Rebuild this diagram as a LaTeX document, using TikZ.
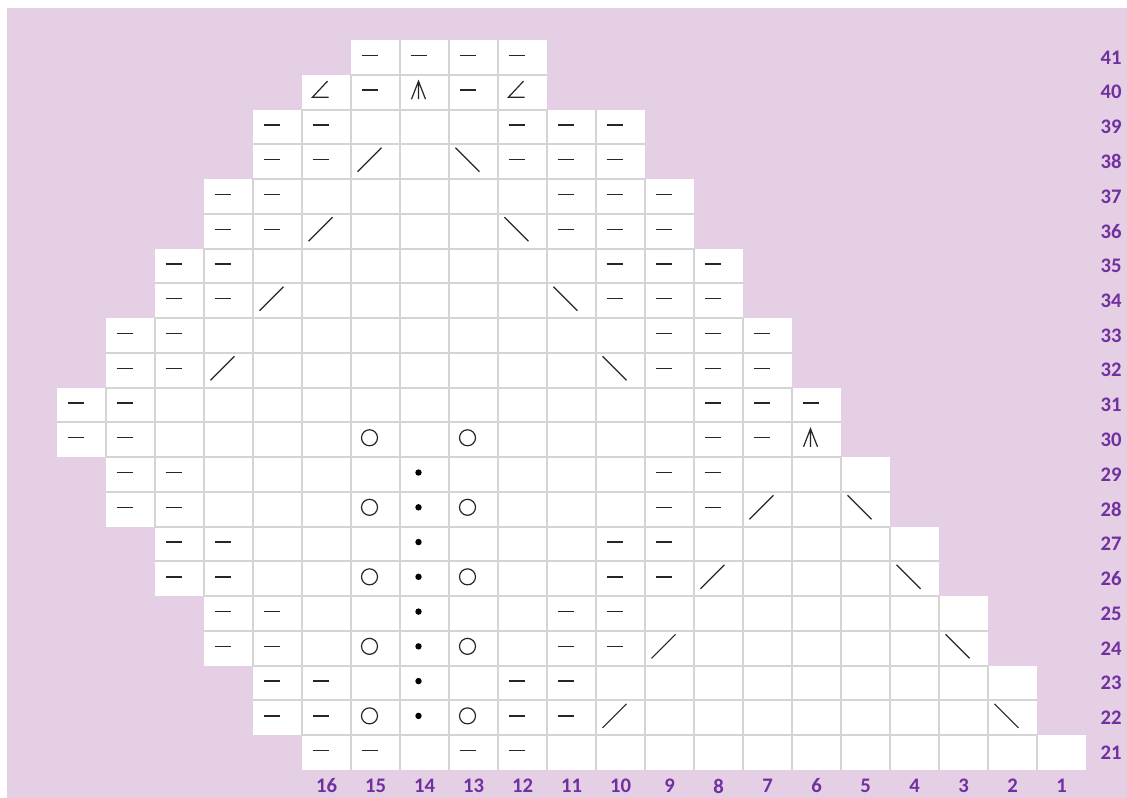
\documentclass[tikz,border=0pt]{standalone}
\usepackage{fontspec}
\setmainfont{Carlito}
\definecolor{bg}{RGB}{228,207,228}
\definecolor{lab}{RGB}{112,48,160}
\definecolor{gridc}{RGB}{212,212,212}
\begin{document}
\begin{tikzpicture}[x=0.75pt,y=-0.75pt,
  gridline/.style={draw=gridc,line width=1.5pt},
  sym/.style={draw=black!85,line width=1pt},
  lbl/.style={text=lab,font=\bfseries\fontsize{15.5}{17}\selectfont,inner sep=0pt}]
\useasboundingbox (0,0) rectangle (1127,798);
\fill[bg] (7,8) rectangle (1127,798);
% white cells per row: row/leftmost col/rightmost col
\def\rows{41/15/12,40/16/12,39/17/10,38/17/10,37/18/9,36/18/9,35/19/8,34/19/8,33/20/7,32/20/7,31/21/6,30/21/6,29/20/5,28/20/5,27/19/4,26/19/4,25/18/3,24/18/3,23/17/2,22/17/2,21/16/1}
\foreach \r/\L/\R in \rows {
  \pgfmathsetmacro\xa{1086-49*\L}
  \pgfmathsetmacro\xb{1086-49*(\R-1)}
  \pgfmathsetmacro\ya{40+(41-\r)*34.762}
  \pgfmathsetmacro\yb{\ya+34.762}
  \fill[white] (\xa,\ya) rectangle (\xb,\yb);
}
% vertical grid lines
\foreach \r/\L/\R in \rows {
  \pgfmathsetmacro\ya{40+(41-\r)*34.762}
  \pgfmathsetmacro\yb{\ya+34.762}
  \pgfmathtruncatemacro\Lm{\L-1}
  \foreach \c in {\R,...,\Lm} {
    \pgfmathsetmacro\xx{1086-49*\c}
    \draw[gridline] (\xx,\ya) -- (\xx,\yb);
  }
}
% horizontal grid lines (top of row r, shared with row r+1)
\foreach \r/\L/\R in {21/16/2,22/17/2,23/17/3,24/18/3,25/18/4,26/19/4,27/19/5,28/20/5,29/20/6,30/21/6,31/20/7,32/20/7,33/19/8,34/19/8,35/18/9,36/18/9,37/17/10,38/17/10,39/16/12,40/15/12} {
  \pgfmathsetmacro\xa{1086-49*\L}
  \pgfmathsetmacro\xb{1086-49*(\R-1)}
  \pgfmathsetmacro\ya{40+(41-\r)*34.762}
  \draw[gridline] (\xa,\ya) -- (\xb,\ya);
}
% symbol centre: x = 1104.5-49c (slightly left of cell centre)
% purl dashes
\foreach \c/\r in {16/21,15/21,13/21,12/21,
  17/22,16/22,12/22,11/22, 17/23,16/23,12/23,11/23,
  18/24,17/24,11/24,10/24, 18/25,17/25,11/25,10/25,
  19/26,18/26,10/26,9/26, 19/27,18/27,10/27,9/27,
  20/28,19/28,9/28,8/28, 20/29,19/29,9/29,8/29,
  21/30,20/30,8/30,7/30, 21/31,20/31,8/31,7/31,6/31,
  20/32,19/32,9/32,8/32,7/32, 20/33,19/33,9/33,8/33,7/33,
  19/34,18/34,10/34,9/34,8/34, 19/35,18/35,10/35,9/35,8/35,
  18/36,17/36,11/36,10/36,9/36, 18/37,17/37,11/37,10/37,9/37,
  17/38,16/38,12/38,11/38,10/38, 17/39,16/39,12/39,11/39,10/39,
  15/40,13/40, 15/41,14/41,13/41,12/41} {
  \pgfmathsetmacro\x{1104.5-49*\c}
  \pgfmathsetmacro\y{55.4+(41-\r)*34.762}
  \draw[sym] (\x-8,\y) -- (\x+8,\y);
}
% yarn overs (circles)
\foreach \c/\r in {15/22,13/22,15/24,13/24,15/26,13/26,15/28,13/28,15/30,13/30} {
  \pgfmathsetmacro\x{1104.5-49*\c}
  \pgfmathsetmacro\y{55.4+(41-\r)*34.762}
  \draw[sym,line width=0.9pt] (\x,\y) circle[radius=8];
}
% dots
\foreach \r in {22,...,29} {
  \pgfmathsetmacro\x{1104.5-49*14}
  \pgfmathsetmacro\y{55.4+(41-\r)*34.762}
  \fill[black] (\x,\y) circle[radius=3.2];
}
% slashes /
\foreach \c/\r in {10/22,9/24,8/26,7/28,18/32,17/34,16/36,15/38} {
  \pgfmathsetmacro\x{1104.5-49*\c}
  \pgfmathsetmacro\y{55.4+(41-\r)*34.762}
  \draw[sym,line width=0.9pt] (\x-12,\y+12) -- (\x+12,\y-12);
}
% backslashes
\foreach \c/\r in {2/22,3/24,4/26,5/28,10/32,11/34,12/36,13/38} {
  \pgfmathsetmacro\x{1104.5-49*\c}
  \pgfmathsetmacro\y{55.4+(41-\r)*34.762}
  \draw[sym,line width=0.9pt] (\x-12,\y-12) -- (\x+12,\y+12);
}
% central double decrease
\foreach \c/\r in {6/30,14/40} {
  \pgfmathsetmacro\x{1104.5-49*\c}
  \pgfmathsetmacro\y{55.4+(41-\r)*34.762}
  \draw[sym,line width=0.9pt] (\x-7,\y+9) -- (\x,\y-9) -- (\x+7,\y+9) (\x,\y-9) -- (\x,\y+9);
}
% angle symbols
\foreach \c/\r in {16/40,12/40} {
  \pgfmathsetmacro\x{1104.5-49*\c}
  \pgfmathsetmacro\y{55.4+(41-\r)*34.762}
  \draw[sym,line width=0.9pt] (\x+7,\y-9) -- (\x-8,\y+7) -- (\x+8,\y+7);
}
% row labels
\foreach \r in {21,...,41} {
  \pgfmathsetmacro\y{57.38+(41-\r)*34.762}
  \node[lbl] (row\r) at (1111,\y) {\r};
}
% column labels
\foreach \c in {1,...,16} {
  \pgfmathsetmacro\x{1110.5-49*\c}
  \node[lbl] (col\c) at (\x,786) {\c};
}
\end{tikzpicture}
\end{document}
